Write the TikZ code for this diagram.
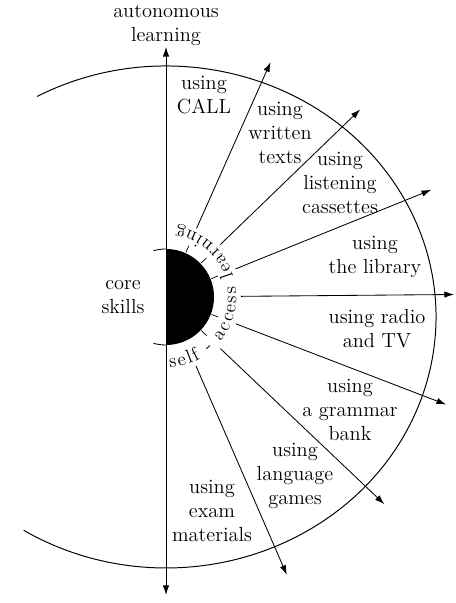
\documentclass[tikz,border=0pt]{standalone}
\usetikzlibrary{arrows.meta, decorations.text}

\begin{document}
\begin{tikzpicture}[
        arr/.style={-{Latex[length=2.4mm, width=1.6mm]}, line width=0.6pt},
        lbl/.style={align=center, font=\fontsize{14.5}{17}\selectfont, inner sep=1pt}]
        \useasboundingbox (-4.15,-7.65) rectangle (7.225,7.425);

        % Core
        \coordinate (c) at (0,0);
        \fill (90:1.2) arc[start angle=90, end angle=-90, radius=1.2] -- cycle;
        \draw[line width=0.6pt] (90:1.2) arc[start angle=90, end angle=105, radius=1.2];
        \draw[line width=0.6pt] (-90:1.2) arc[start angle=-90, end angle=-105, radius=1.2];
        \path[decorate, decoration={text along path, text align=fit to path,
                text={|\fontsize{13.5}{15}\selectfont|self - access learning}}]
            (-87:1.76) arc[start angle=-87, end angle=81, radius=1.76];

        % Outer arc
        \coordinate (ec) at (0,-0.5);
        \draw[line width=0.7pt] ([shift={(118.5:6.75 and 6.275)}]ec)
            arc[start angle=118.5, end angle=-121.8, x radius=6.75, y radius=6.275];

        % Nodes
        \node (auto) [lbl] at (0,6.8) {autonomous\\learning};
        \node (core) [lbl] at (-1.075,0) {core\\skills};
        \node (call) [lbl] at (0.95,5.05) {using\\CALL};
        \node (written) [lbl] at (2.85,4.1) {using\\written\\texts};
        \node (listen) [lbl] at (4.35,2.85) {using\\listening\\cassettes};
        \node (library) [lbl] at (5.225,1.0) {using\\the library};
        \node (radio) [lbl] at (5.275,-0.8) {using radio\\and TV};
        \node (grammar) [lbl] at (4.6,-2.825) {using\\a grammar\\bank};
        \node (games) [lbl] at (3.225,-4.475) {using\\language\\games};
        \node (exam) [lbl] at (1.15,-5.35) {using\\exam\\materials};

        % Edges
        \coordinate (top) at (0,6.25);
        \coordinate (bot) at (0,-7.45);
        \draw[arr] (c) -- (top);
        \draw[arr] (c) -- (bot);
        \foreach \ang/\len [count=\i] in {66/6.425, 44/6.75, 22/7.15, 0.5/7.2, -21/7.5, -43.5/7.525, -66.5/7.575} {
            \coordinate (in\i) at (\ang:1.875);
            \coordinate (tip\i) at (\ang:\len);
            \draw[arr] (in\i) -- (tip\i);
        }
        \foreach \ang in {66, 44, 22, -21, -43.5}
            \draw[line width=0.5pt] (\ang:1.22) -- (\ang:1.4);
    \end{tikzpicture}
\end{document}
